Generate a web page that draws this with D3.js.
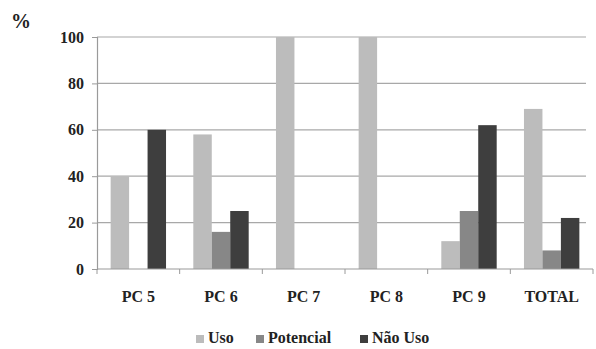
<!DOCTYPE html>
<html>
<head>
<meta charset="utf-8">
<script src="https://cdn.jsdelivr.net/npm/d3@7"></script>
<style>
  html, body { margin: 0; padding: 0; background: #fff; }
</style>
</head>
<body>
<svg id="chart" width="596" height="349"></svg>
<script>
// Category labels and series (percent)
const categories = ["PC 5", "PC 6", "PC 7", "PC 8", "PC 9", "TOTAL"];
const seriesNames = ["Uso", "Potencial", "Não Uso"];
const uso       = [40, 58, 100, 100, 12, 69];
const potencial = [0, 16, 0, 0, 25, 8];
const naoUso    = [60, 25, 0, 0, 62, 22];
const yTicks = [0, 20, 40, 60, 80, 100];
const colors = ["#bcbcbc", "#878787", "#3e3e3e"];

const FONT = "'Liberation Serif', 'Times New Roman', 'DejaVu Serif', serif";

const series = [uso, potencial, naoUso];
const rows = categories.map((c, i) => ({ cat: c, vals: series.map(s => s[i]) }));

const svg = d3.select("#chart");
const left = 97, right = 593;

const x = d3.scaleBand().domain(categories).range([left, right]).paddingInner(0.33).paddingOuter(0.165);
const x1 = d3.scaleBand().domain(seriesNames).range([0, x.bandwidth()]);
const y = d3.scaleLinear().domain([0, 100]).range([269, 37]);

// horizontal grid lines
svg.append("g").selectAll("line").data(yTicks.filter(t => t > 0)).join("line")
  .attr("x1", left).attr("x2", 586)
  .attr("y1", d => y(d)).attr("y2", d => y(d))
  .attr("stroke", "#a8a8a8").attr("stroke-width", 1.2);

// bars
const groups = svg.append("g").selectAll("g").data(rows).join("g")
  .attr("transform", d => `translate(${x(d.cat)},0)`);
groups.selectAll("rect").data(d => d.vals.map((v, j) => ({ v, name: seriesNames[j], j })))
  .join("rect")
  .attr("x", d => x1(d.name))
  .attr("width", x1.bandwidth())
  .attr("y", d => y(d.v))
  .attr("height", d => y(0) - y(d.v))
  .attr("fill", d => colors[d.j]);

// y axis
const yAxis = d3.axisLeft(y).tickValues(yTicks).tickSize(5).tickPadding(8);
const gy = svg.append("g").attr("transform", `translate(${left},0)`).call(yAxis)
  .attr("font-family", null).attr("font-size", null);
gy.select(".domain").attr("stroke", "#9a9a9a").attr("stroke-width", 1.2);
gy.selectAll(".tick line").attr("stroke", "#9a9a9a");
gy.selectAll("text").style("font-family", FONT).style("font-weight", "bold")
  .style("font-size", "16px").attr("fill", "#222");

// x axis: ticks at group boundaries
const gx = svg.append("g").attr("transform", `translate(0,${y(0)})`);
gx.append("line").attr("x1", left).attr("x2", right).attr("y1", 0).attr("y2", 0)
  .attr("stroke", "#9a9a9a").attr("stroke-width", 1.2);
const bounds = d3.range(categories.length + 1).map(i => left + i * x.step());
gx.selectAll("line.b").data(bounds).join("line").attr("class", "b")
  .attr("x1", d => d).attr("x2", d => d).attr("y1", 0).attr("y2", 5)
  .attr("stroke", "#9a9a9a");
gx.selectAll("text").data(categories).join("text")
  .attr("x", d => x(d) + x.bandwidth() / 2)
  .attr("y", 33)
  .attr("text-anchor", "middle")
  .style("font-family", FONT).style("font-weight", "bold").style("font-size", "16px")
  .attr("fill", "#222")
  .text(d => d);

// unit label
svg.append("text").attr("x", 11).attr("y", 28)
  .style("font-family", FONT).style("font-weight", "bold").style("font-size", "20px")
  .attr("fill", "#222").text("%");

// legend
const legendItems = [{ x: 196, name: "Uso" }, { x: 256, name: "Potencial" }, { x: 360, name: "Não Uso" }];
const lg = svg.append("g").selectAll("g").data(legendItems).join("g")
  .attr("transform", d => `translate(${d.x},0)`);
lg.append("rect").attr("x", 0).attr("y", 335).attr("width", 8).attr("height", 8)
  .attr("fill", (d, i) => colors[i]);
lg.append("text").attr("x", 12).attr("y", 343)
  .style("font-family", FONT).style("font-weight", "bold").style("font-size", "16px")
  .attr("fill", "#222").text(d => d.name);
</script>
</body>
</html>
